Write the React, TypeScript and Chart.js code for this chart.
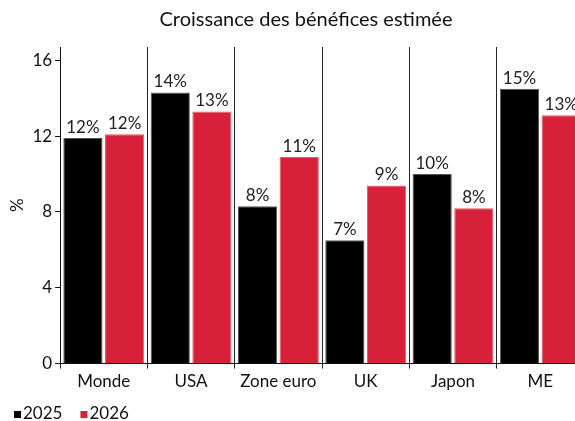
import React, { useEffect, useRef } from "react";
import { Chart, registerables } from "chart.js";

Chart.register(...registerables);

const categories = ["Monde", "USA", "Zone euro", "UK", "Japon", "ME"];
const series2025 = [11.9, 14.3, 8.3, 6.5, 10.0, 14.5];
const series2026 = [12.1, 13.3, 10.9, 9.4, 8.2, 13.1];
const yTicks = [0, 4, 8, 12, 16];
const seriesNames = ["2025", "2026"];
const titleText = "Croissance des bénéfices estimée";

const FONT = "Lato, 'Open Sans', sans-serif";
const RED = "#d7213a";
const FS = 17;

const valueLabels = {
  id: "valueLabels",
  afterDatasetsDraw(chart: any) {
    const ctx = chart.ctx;
    ctx.save();
    ctx.font = `${FS}px ${FONT}`;
    ctx.fillStyle = "#222";
    ctx.textAlign = "center";
    ctx.textBaseline = "bottom";
    chart.data.datasets.forEach((ds: any, i: number) => {
      const meta = chart.getDatasetMeta(i);
      meta.data.forEach((bar: any, j: number) => {
        ctx.fillText(`${Math.round(ds.data[j])}%`, bar.x, bar.y - 2);
      });
    });
    ctx.restore();
  },
};

const titleAndLegend = {
  id: "titleAndLegend",
  afterDraw(chart: any) {
    const ctx = chart.ctx;
    ctx.save();
    ctx.font = `20px ${FONT}`;
    ctx.fillStyle = "#111";
    ctx.textAlign = "center";
    ctx.textBaseline = "middle";
    ctx.fillText(titleText, 306, 20);

    ctx.font = `${FS}px ${FONT}`;
    ctx.textAlign = "left";
    const y = chart.height - 7;
    let x = 14;
    chart.data.datasets.forEach((ds: any) => {
      ctx.fillStyle = ds.backgroundColor;
      ctx.fillRect(x, y - 3, 7, 7);
      ctx.fillStyle = "#111";
      ctx.fillText(ds.label, x + 9, y);
      x += 9 + ctx.measureText(ds.label).width + 18;
    });
    ctx.restore();
  },
};

export default function App() {
  const ref = useRef<HTMLCanvasElement>(null);
  useEffect(() => {
    const chart = new Chart(ref.current!, {
      type: "bar",
      data: {
        labels: categories,
        datasets: [
          {
            label: seriesNames[0],
            data: series2025,
            backgroundColor: "#000",
            borderColor: "#555",
            borderWidth: 1,
            categoryPercentage: 0.955,
            barPercentage: 0.94,
          },
          {
            label: seriesNames[1],
            data: series2026,
            backgroundColor: RED,
            borderColor: "#e05a6a",
            borderWidth: 1,
            categoryPercentage: 0.955,
            barPercentage: 0.94,
          },
        ],
      },
      options: {
        responsive: false,
        animation: false,
        layout: { padding: { left: 5, right: 28, top: 47, bottom: 26 } },
        plugins: {
          title: { display: false },
          legend: { display: false },
          tooltip: { enabled: false },
        },
        scales: {
          x: {
            grid: {
              display: true,
              offset: true,
              color: "#222",
              lineWidth: 1,
              drawOnChartArea: true,
              tickLength: 5,
            },
            border: { color: "#111", width: 1 },
            ticks: { font: { family: FONT, size: FS }, color: "#111", padding: 3 },
          },
          y: {
            min: 0,
            max: 16.7,
            afterBuildTicks: (scale: any) => {
              scale.ticks = yTicks.map((v) => ({ value: v }));
            },
            grid: { display: true, drawOnChartArea: false, color: "#111", tickLength: 5 },
            border: { color: "#111", width: 1 },
            ticks: { font: { family: FONT, size: FS }, color: "#111", padding: 3 },
            title: {
              display: true,
              text: "%",
              font: { family: FONT, size: FS },
              color: "#111",
              padding: 2,
            },
          },
        },
      },
      plugins: [valueLabels, titleAndLegend],
    });
    return () => chart.destroy();
  }, []);
  return (
    <div style={{ position: "fixed", left: 0, top: 0, width: 575, height: 421, overflow: "hidden", background: "#fff" }}>
      <canvas ref={ref} width={612} height={421} style={{ width: 612, height: 421, display: "block" }} />
    </div>
  );
}
